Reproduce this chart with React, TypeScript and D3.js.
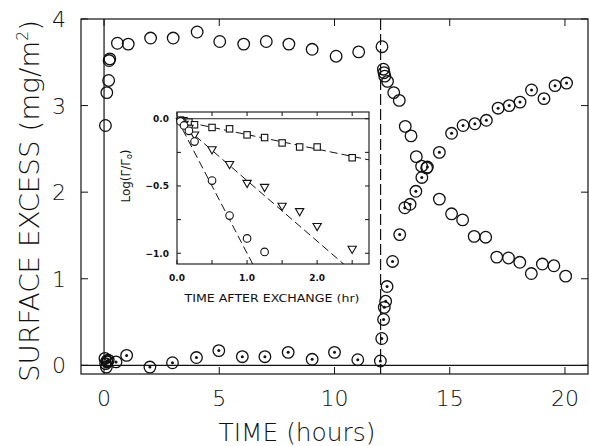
import { useEffect, useRef } from "react";
import * as d3 from "d3";

// main plot: first protein (open circles) and exchanged protein (dotted circles)
const openTime = [0.06, 0.12, 0.2, 0.22, 0.25, 0.58, 1.05, 2.02, 3.0, 4.04, 5.02, 6.06, 7.04, 8.02, 9.03, 10.07, 11.05, 12.06, 12.12, 12.15, 12.18, 12.3, 12.57, 12.81, 13.07, 13.32, 13.55, 13.78, 14.0, 14.55, 15.08, 15.56, 16.06, 16.56, 17.04, 17.55, 18.04, 18.54, 19.02, 19.52, 20.03];
const openExcess = [2.77, 3.15, 3.29, 3.52, 3.54, 3.72, 3.71, 3.78, 3.78, 3.85, 3.74, 3.71, 3.74, 3.71, 3.65, 3.57, 3.62, 3.68, 3.42, 3.38, 3.34, 3.28, 3.15, 3.06, 2.76, 2.65, 2.41, 2.3, 2.28, 1.92, 1.75, 1.68, 1.49, 1.48, 1.25, 1.24, 1.19, 1.06, 1.17, 1.15, 1.03];
const dotTime = [0.04, 0.07, 0.1, 0.12, 0.14, 0.18, 0.52, 0.98, 1.99, 2.97, 4.01, 4.98, 6.0, 6.98, 7.99, 9.03, 10.0, 11.01, 11.99, 12.05, 12.13, 12.16, 12.22, 12.28, 12.52, 12.83, 13.05, 13.28, 13.53, 13.79, 14.03, 14.55, 15.08, 15.58, 16.09, 16.59, 17.1, 17.58, 18.05, 18.55, 19.09, 19.57, 20.07];
const dotExcess = [0.08, 0.02, -0.02, 0.05, 0.04, 0.06, 0.04, 0.115, -0.02, 0.03, 0.09, 0.17, 0.1, 0.1, 0.15, 0.07, 0.15, 0.065, 0.05, 0.31, 0.53, 0.67, 0.74, 0.91, 1.2, 1.51, 1.82, 1.86, 2.01, 2.17, 2.29, 2.46, 2.68, 2.77, 2.79, 2.83, 2.97, 3.0, 3.04, 3.18, 3.08, 3.23, 3.26];
const exchangeTime = 12;
const xTicks = [0, 5, 10, 15, 20];
const yTicks = [0, 1, 2, 3, 4];

// inset: log(G/G0) after exchange
const insetTime = [0.05, 0.1, 0.17, 0.25, 0.5, 0.75, 1.0, 1.25, 1.5, 1.75, 2.0, 2.5];
const squareLog = [-0.01, -0.015, -0.025, -0.045, -0.065, -0.075, -0.12, -0.14, -0.18, -0.21, -0.21, -0.29];
const triangleLog = [-0.02, -0.04, -0.07, -0.12, -0.23, -0.34, -0.48, -0.51, -0.65, -0.69, -0.8, -0.97];
const circleLog = [-0.02, -0.05, -0.09, -0.17, -0.46, -0.72, -0.89, -0.99];
// fitted lines [intercept, slope]
const squareFit = [-0.01, -0.108];
const triangleFit = [-0.01, -0.45];
const circleFit = [0.0, -1.0];
const insetXTicks = [0, 0.5, 1, 1.5, 2, 2.5];
const insetXLabels = [0, 1, 2];
const insetYTicks = [0, -0.25, -0.5, -0.75, -1];
const insetYLabels = [0, -0.5, -1];

const FONT = "'DejaVu Sans', sans-serif";

const App = () => {
  const svgRef = useRef<SVGSVGElement>(null);

  useEffect(() => {
    const width = 589, height = 446;
    const svg = d3.select(svgRef.current);
    svg.selectAll("*").remove();
    svg.attr("width", width).attr("height", height);

    const left = 81, right = 588, top = 19, bottom = 374;
    const x = d3.scaleLinear().domain([-1, 21]).range([left, right]);
    const y = d3.scaleLinear().domain([-0.1, 4]).range([bottom, top]);

    const g = svg.append("g").attr("stroke", "#111").attr("fill", "none");

    // frame
    g.append("rect").attr("x", left).attr("y", top).attr("width", right - left).attr("height", bottom - top).attr("stroke-width", 1.2);
    // ticks
    xTicks.forEach(t => {
      g.append("line").attr("x1", x(t)).attr("x2", x(t)).attr("y1", bottom).attr("y2", bottom - 7);
      g.append("line").attr("x1", x(t)).attr("x2", x(t)).attr("y1", top).attr("y2", top + 7);
    });
    yTicks.forEach(t => {
      g.append("line").attr("x1", left).attr("x2", left + 7).attr("y1", y(t)).attr("y2", y(t));
      g.append("line").attr("x1", right).attr("x2", right - 7).attr("y1", y(t)).attr("y2", y(t));
    });
    // zero lines
    g.append("line").attr("x1", left).attr("x2", right).attr("y1", y(0)).attr("y2", y(0)).attr("stroke-width", 1.2);
    g.append("line").attr("x1", x(0)).attr("x2", x(0)).attr("y1", top).attr("y2", y(0)).attr("stroke-width", 1.2);
    // exchange
    g.append("line").attr("x1", x(exchangeTime)).attr("x2", x(exchangeTime)).attr("y1", top).attr("y2", bottom)
      .attr("stroke-width", 1.2).attr("stroke-dasharray", "11,4");

    // tick labels
    const txt = svg.append("g").attr("font-family", FONT).attr("font-weight", 200).attr("fill", "#111");
    xTicks.forEach(t => {
      txt.append("text").attr("x", x(t)).attr("y", 406).attr("text-anchor", "middle").attr("font-size", 22).text(t);
    });
    yTicks.forEach(t => {
      txt.append("text").attr("x", 59).attr("y", y(t) + 8).attr("text-anchor", "middle").attr("font-size", 22).text(t);
    });
    txt.append("text").attr("x", 297).attr("y", 441).attr("text-anchor", "middle").attr("font-size", 25)
      .attr("textLength", 157).attr("lengthAdjust", "spacingAndGlyphs").text("TIME (hours)");
    const yl = txt.append("text").attr("transform", "translate(39,201) rotate(-90)").attr("text-anchor", "middle")
      .attr("font-size", 27).attr("textLength", 362).attr("lengthAdjust", "spacingAndGlyphs");
    yl.append("tspan").text("SURFACE EXCESS (mg/m");
    yl.append("tspan").attr("font-size", 15).attr("dy", -11).text("2");
    yl.append("tspan").attr("dy", 11).text(")");

    // inset
    const il = 177, ir = 369, it = 112, ib = 264;
    const ix = d3.scaleLinear().domain([0, 2.74]).range([il, ir]);
    const iy = d3.scaleLinear().domain([-1.08, 0.05]).range([ib, it]);

    // main markers drawn before inset so inset covers them
    const marks = svg.append("g");
    openTime.forEach((t, i) => {
      marks.append("circle").attr("cx", x(t)).attr("cy", y(openExcess[i])).attr("r", 5.8)
        .attr("fill", "none").attr("stroke", "#111").attr("stroke-width", 1.3);
    });
    dotTime.forEach((t, i) => {
      marks.append("circle").attr("cx", x(t)).attr("cy", y(dotExcess[i])).attr("r", 5.8)
        .attr("fill", "none").attr("stroke", "#111").attr("stroke-width", 1.3);
      marks.append("circle").attr("cx", x(t)).attr("cy", y(dotExcess[i])).attr("r", 1.5).attr("fill", "#111");
    });

    const ig = svg.append("g").attr("stroke", "#111").attr("fill", "none");
    ig.append("rect").attr("x", il).attr("y", it).attr("width", ir - il).attr("height", ib - it)
      .attr("fill", "white").attr("stroke-width", 1.1);
    insetXTicks.forEach(t => {
      ig.append("line").attr("x1", ix(t)).attr("x2", ix(t)).attr("y1", ib).attr("y2", ib - 4);
      ig.append("line").attr("x1", ix(t)).attr("x2", ix(t)).attr("y1", it).attr("y2", it + 4);
    });
    insetYTicks.forEach(t => {
      ig.append("line").attr("x1", il).attr("x2", il + 4).attr("y1", iy(t)).attr("y2", iy(t));
      ig.append("line").attr("x1", ir).attr("x2", ir - 4).attr("y1", iy(t)).attr("y2", iy(t));
    });
    ig.append("line").attr("x1", il).attr("x2", ir).attr("y1", iy(0)).attr("y2", iy(0)).attr("stroke-width", 0.9);

    // fit lines clipped to inset
    svg.append("clipPath").attr("id", "insetClip").append("rect")
      .attr("x", il).attr("y", it).attr("width", ir - il).attr("height", ib - it);
    const fits = ig.append("g").attr("clip-path", "url(#insetClip)").attr("stroke-dasharray", "8,4").attr("stroke-width", 1);
    [squareFit, triangleFit, circleFit].forEach(([b, m]) => {
      fits.append("line").attr("x1", ix(0)).attr("y1", iy(b)).attr("x2", ix(2.74)).attr("y2", iy(b + m * 2.74));
    });

    const im = ig.append("g").attr("stroke-width", 1.1).attr("fill", "white");
    insetTime.forEach((t, i) => {
      im.append("rect").attr("x", ix(t) - 3.2).attr("y", iy(squareLog[i]) - 3.2).attr("width", 6.4).attr("height", 6.4);
    });
    const tri = d3.symbol().type(d3.symbolTriangle).size(30);
    insetTime.forEach((t, i) => {
      im.append("path").attr("d", tri()).attr("transform", `translate(${ix(t)},${iy(triangleLog[i]) - 0.5}) rotate(180)`);
    });
    circleLog.forEach((v, i) => {
      im.append("circle").attr("cx", ix(insetTime[i])).attr("cy", iy(v)).attr("r", 3.8);
    });

    const itxt = svg.append("g").attr("font-family", FONT).attr("font-size", 9.5).attr("fill", "#111");
    insetXLabels.forEach(t => {
      itxt.append("text").attr("x", ix(t)).attr("y", 281).attr("text-anchor", "middle").attr("font-weight", "bold")
        .attr("font-size", 9).text(d3.format(".1f")(t));
    });
    insetYLabels.forEach(t => {
      itxt.append("text").attr("x", 169).attr("y", iy(t) + 3.5).attr("text-anchor", "end").attr("font-weight", "bold")
        .attr("font-size", 9).text(d3.format(".1f")(t).replace("-", "\u2212"));
    });
    itxt.append("text").attr("x", 272).attr("y", 302).attr("text-anchor", "middle").attr("font-size", 11)
      .attr("textLength", 175).attr("lengthAdjust", "spacingAndGlyphs").text("TIME AFTER EXCHANGE (hr)");
    const il2 = itxt.append("text").attr("transform", "translate(130,176) rotate(-90)").attr("text-anchor", "middle").attr("font-size", 12);
    il2.append("tspan").text("Log(\u0393/\u0393");
    il2.append("tspan").attr("font-size", 8).attr("dy", 2).text("o");
    il2.append("tspan").attr("dy", -2).text(")");
  }, []);

  return <svg ref={svgRef} style={{ position: "absolute", left: 0, top: 0 }} />;
};

export default App;
